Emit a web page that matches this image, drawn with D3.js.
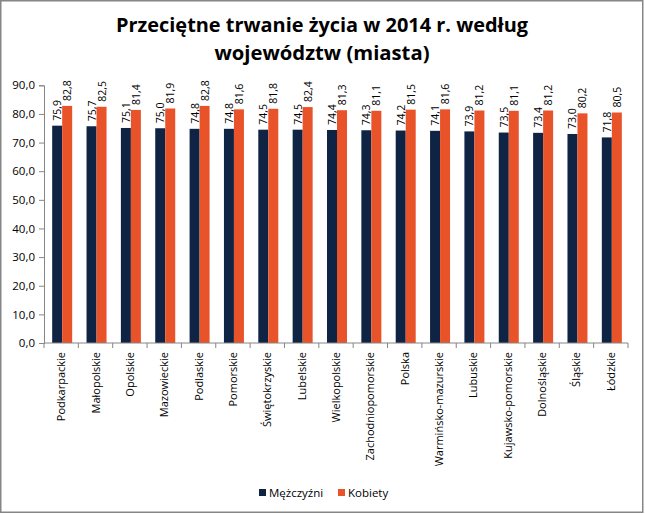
<!DOCTYPE html>
<html><head><meta charset="utf-8">
<script src="https://cdn.jsdelivr.net/npm/d3@7/dist/d3.min.js"></script>
<style>body{margin:0;background:#fff}svg{display:block}</style>
</head><body>
<script>
const categories = ["Podkarpackie","Małopolskie","Opolskie","Mazowieckie","Podlaskie","Pomorskie","Świętokrzyskie","Lubelskie","Wielkopolskie","Zachodniopomorskie","Polska","Warmińsko-mazurskie","Lubuskie","Kujawsko-pomorskie","Dolnośląskie","Śląskie","Łódzkie"];
const men   = [75.9,75.7,75.1,75.0,74.8,74.8,74.5,74.5,74.4,74.3,74.2,74.1,73.9,73.5,73.4,73.0,71.8];
const women = [82.8,82.5,81.4,81.9,82.8,81.6,81.8,82.4,81.3,81.1,81.5,81.6,81.2,81.1,81.2,80.2,80.5];
const seriesNames = ["Mężczyźni","Kobiety"];
const yTicks = [0,10,20,30,40,50,60,70,80,90];
const titleLines = ["Przeciętne trwanie życia w 2014 r. według","województw (miasta)"];

const W = 645, H = 514;
const colors = ["#0f2444","#e9532a"];
const font = "'Open Sans','Noto Sans',sans-serif";
const svg = d3.select("body").append("svg").attr("width", W).attr("height", H);

svg.append("rect").attr("x",0.75).attr("y",0.75).attr("width",642).attr("height",511.5)
  .attr("fill","#fff").attr("stroke","#868686").attr("stroke-width",1.5);

// title
const tl = [[32, 412], [60, 215]];
titleLines.forEach((t,i)=>{
  svg.append("text").attr("x",322).attr("y",tl[i][0]).attr("text-anchor","middle")
    .attr("font-family",font).attr("font-weight","bold").attr("font-size",19)
    .attr("textLength",tl[i][1]).attr("lengthAdjust","spacingAndGlyphs")
    .attr("fill","#000").text(t);
});

const x0 = 44, x1 = 628, y0 = 343, y1 = 85.3;
const x = d3.scaleBand().domain(categories).range([x0,x1]);
const y = d3.scaleLinear().domain([0,90]).range([y0,y1]);
const inner = d3.scaleBand().domain([0,1]).range([0,20]);
const offset = (x.bandwidth()-20)/2 + 1;

// y axis
const yAxis = d3.axisLeft(y).tickValues(yTicks).tickSize(5).tickPadding(4)
  .tickFormat(d=>d3.format(".1f")(d).replace(".",","));
const ga = svg.append("g").attr("transform",`translate(${x0},0)`).call(yAxis);
ga.select(".domain").attr("stroke","#868686");
ga.selectAll(".tick line").attr("stroke","#868686");
ga.selectAll(".tick text").attr("font-family",font).attr("font-size",11.5).attr("fill","#000");

// bars
const series = [men, women];
series.forEach((vals, s)=>{
  svg.append("g").selectAll("rect").data(vals).join("rect")
    .attr("x",(d,i)=>x(categories[i])+offset+inner(s))
    .attr("width",inner.bandwidth())
    .attr("y",d=>y(d)).attr("height",d=>y0-y(d))
    .attr("fill",colors[s]);
  svg.append("g").selectAll("text").data(vals).join("text")
    .attr("transform",(d,i)=>`translate(${x(categories[i])+offset+inner(s)+inner.bandwidth()/2+4},${y(d)-5}) rotate(-90)`)
    .attr("font-family",font).attr("font-size",10.5).attr("fill","#000")
    .text(d=>d3.format(".1f")(d).replace(".",","));
});

// x axis
const gx = svg.append("g").attr("transform",`translate(0,${y0})`);
gx.append("line").attr("x1",x0).attr("x2",x1).attr("stroke","#868686");
const bounds = categories.map(c=>x(c)).concat([x1]);
gx.selectAll("line.t").data(bounds).join("line").attr("class","t")
  .attr("x1",d=>d).attr("x2",d=>d).attr("y1",0).attr("y2",5).attr("stroke","#868686");
gx.selectAll("text").data(categories).join("text")
  .attr("transform",d=>`translate(${x(d)+x.bandwidth()/2+4},9) rotate(-90)`)
  .attr("text-anchor","end").attr("font-family",font).attr("font-size",11).attr("fill","#000")
  .text(d=>d);

// legend
const lg = svg.append("g");
const lx = [259, 338];
seriesNames.forEach((n,i)=>{
  lg.append("rect").attr("x",lx[i]).attr("y",489).attr("width",7).attr("height",7).attr("fill",colors[i]);
  lg.append("text").attr("x",lx[i]+10).attr("y",497).attr("font-family",font).attr("font-size",11.5)
    .attr("fill","#000").text(n);
});
</script>
</body></html>
